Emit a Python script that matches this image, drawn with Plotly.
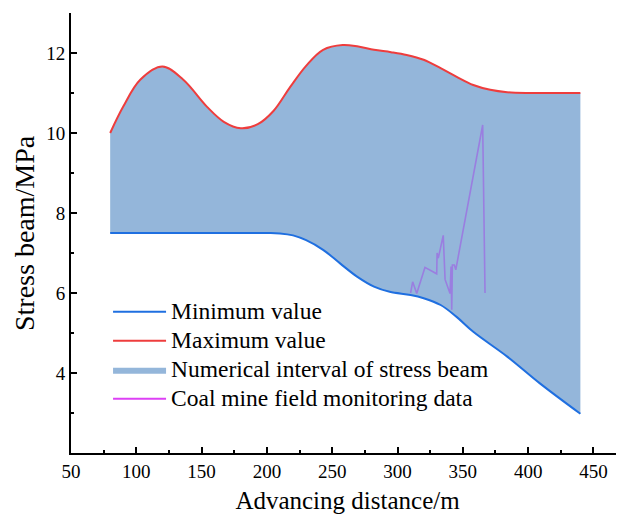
import plotly.graph_objects as go

# ---- data ----
max_x = [80, 90, 103, 120, 136, 154, 167, 180, 193, 205, 218, 230, 243, 258, 270, 282, 295, 307, 320, 333, 345, 358, 371, 384, 400, 420, 440]
max_y = [10.0, 10.66, 11.33, 11.66, 11.33, 10.66, 10.28, 10.12, 10.22, 10.55, 11.16, 11.68, 12.08, 12.2, 12.16, 12.08, 12.02, 11.95, 11.83, 11.62, 11.41, 11.2, 11.08, 11.02, 11.0, 11.0, 11.0]

min_x = [80, 120, 160, 200, 210, 220, 230, 243, 256, 269, 282, 294, 310, 320, 333, 345, 358, 384, 409, 440]
min_y = [7.5, 7.5, 7.5, 7.5, 7.49, 7.44, 7.32, 7.08, 6.74, 6.41, 6.16, 6.03, 5.95, 5.87, 5.7, 5.41, 5.03, 4.41, 3.74, 2.98]

mon_x = [310, 311.6, 314.7, 321, 330, 330.3, 331.2, 335, 336.4, 340.2, 341.0, 341.5, 342.0, 343.5, 344.6, 365.2, 367]
mon_y = [6.0, 6.28, 5.99, 6.64, 6.48, 7.0, 6.87, 7.44, 6.34, 5.99, 6.66, 5.58, 6.7, 6.7, 6.58, 10.2, 6.0]

names = ["Minimum value", "Maximum value", "Numerical interval of stress beam", "Coal mine field monitoring data"]

x_ticks = [50, 100, 150, 200, 250, 300, 350, 400, 450]
y_ticks = [4, 6, 8, 10, 12]

FONT = "Liberation Serif, Times New Roman, serif"
BLUE = "#1F6FE0"
RED = "#EE3D3D"
FILL = "#94B6DA"
PURPLE = "#9A7EE0"
MAGENTA = "#DD40F5"
SM = 1.0


def leg(t):
    return '<span style="font-size:23.5px">' + t + '</span>'


fig = go.Figure()
fig.add_trace(go.Scatter(x=min_x, y=min_y, mode="lines", line=dict(width=0, shape="spline", smoothing=SM),
                         showlegend=False, hoverinfo="skip"))
fig.add_trace(go.Scatter(x=max_x, y=max_y, mode="lines", fill="tonexty", fillcolor=FILL,
                         line=dict(width=0, shape="spline", smoothing=SM), name=leg(names[2]), legendrank=3))
fig.add_trace(go.Scatter(x=min_x, y=min_y, mode="lines", line=dict(color=BLUE, width=2, shape="spline", smoothing=SM),
                         name=leg(names[0]), legendrank=1))
fig.add_trace(go.Scatter(x=max_x, y=max_y, mode="lines", line=dict(color=RED, width=2, shape="spline", smoothing=SM),
                         name=leg(names[1]), legendrank=2))
fig.add_trace(go.Scatter(x=mon_x, y=mon_y, mode="lines", line=dict(color=PURPLE, width=1.6),
                         name=names[3], showlegend=False))
fig.add_trace(go.Scatter(x=[None], y=[None], mode="lines", line=dict(color=MAGENTA, width=2),
                         name=leg(names[3]), legendrank=4))

fig.update_layout(
    width=616, height=506,
    margin=dict(l=63, r=0, t=5, b=61),
    paper_bgcolor="white", plot_bgcolor="white",
    font=dict(family=FONT, color="black", size=19),
    legend=dict(x=0.067, y=0.3655, xanchor="left", yanchor="top", bgcolor="rgba(0,0,0,0)",
                traceorder="normal",
                font=dict(family=FONT, size=20), itemwidth=53, tracegroupgap=0),
    showlegend=True,
    annotations=[dict(text="Stress beam/MPa", textangle=-90, xref="paper", yref="paper",
                      x=-0.085, y=0.5, xanchor="center", yanchor="middle", showarrow=False,
                      font=dict(family=FONT, size=28, color="black"))],
)
fig.update_xaxes(range=[50, 473.4], showline=True, linecolor="black", linewidth=2,
                 ticks="inside", ticklen=6, tickwidth=2, tickcolor="black",
                 tickvals=x_ticks,
                 minor=dict(ticks="inside", ticklen=3, tickwidth=2, tickcolor="black", dtick=25, tick0=0),
                 showgrid=False, zeroline=False,
                 title=dict(text="Advancing distance/m", font=dict(family=FONT, size=25), standoff=11),
                 tickfont=dict(family=FONT, size=19))
fig.update_yaxes(range=[2, 13], showline=True, linecolor="black", linewidth=2,
                 ticks="inside", ticklen=6, tickwidth=2, tickcolor="black",
                 tickvals=y_ticks,
                 minor=dict(ticks="inside", ticklen=3, tickwidth=2, tickcolor="black", dtick=1, tick0=0),
                 showgrid=False, zeroline=False,
                 tickfont=dict(family=FONT, size=19))

fig.write_html("out.html")
